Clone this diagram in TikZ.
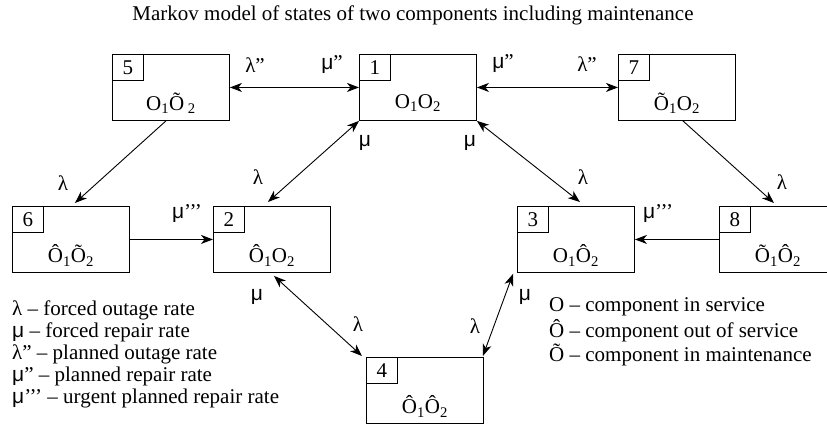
\documentclass[tikz,border=0pt]{standalone}
\usepackage{fontspec}
\setmainfont{Liberation Serif}
\newfontfamily\grk{Liberation Sans}
\usetikzlibrary{arrows.meta}
\newcommand{\mmu}{{\grk μ}}
\newcommand{\dq}{\symbol{34}}
\newcommand{\sq}{\symbol{39}}

\begin{document}
\begin{tikzpicture}[x=1pt,y=-1pt,font=\fontsize{21}{23}\selectfont,
  >={Stealth[length=12pt,width=9pt,inset=3.5pt]},
  state/.style={draw,line width=0.9pt,anchor=north west,minimum width=117pt,minimum height=66pt,inner sep=0pt},
  tag/.style={draw,line width=0.9pt,anchor=north west,minimum width=31pt,minimum height=26pt,inner sep=0pt},
  link/.style={line width=0.9pt},
  rate/.style={inner sep=0pt},
  key/.style={anchor=west,inner sep=0pt}]
\clip (0,0) rectangle (827,425);
\useasboundingbox (0,0) rectangle (827,425);
\node (title) at (413,15) {Markov model of states of two components including maintenance};
\foreach \n/\x/\y/\txt in {1/359/54/{O\textsubscript{1}O\textsubscript{2}},
  5/112/54/{O\textsubscript{1}Õ\textsubscript{\ 2}},
  7/618/54/{Õ\textsubscript{1}O\textsubscript{2}},
  6/12/206/{Ô\textsubscript{1}Õ\textsubscript{2}},
  2/213/206/{Ô\textsubscript{1}O\textsubscript{2}},
  3/517/206/{O\textsubscript{1}Ô\textsubscript{2}},
  8/719/206/{Õ\textsubscript{1}Ô\textsubscript{2}},
  4/366/357/{Ô\textsubscript{1}Ô\textsubscript{2}}}
{\node[state] (s\n) at (\x,\y) {};
 \node[tag] (t\n) at (s\n.north west) {\n};
 \node (o\n) at ([yshift=-16pt]s\n.center) {\txt};}
\draw[link,<->] (s5.east)--(s1.west);
\draw[link,<->] (s1.east)--(s7.west);
\draw[link,->] ([xshift=-5pt]s5.south)--([xshift=4pt,yshift=3pt]s6.north);
\draw[link,->] ([xshift=6pt]s7.south)--([xshift=-4pt,yshift=3pt]s8.north);
\draw[link,<->] (s1.south west)--([xshift=-4pt,yshift=4pt]s2.north);
\draw[link,<->] (s1.south east)--([xshift=4pt,yshift=4pt]s3.north);
\draw[link,->] (s6.east)--(s2.west);
\draw[link,->] (s8.west)--(s3.east);
\draw[link,<->] ([xshift=2pt,yshift=-3pt]s2.south)--([xshift=-4pt,yshift=1pt]s4.north west);
\draw[link,<->] ([xshift=-1pt,yshift=1pt]s4.north east)--([xshift=-4pt,yshift=-1pt]s3.south west);
\node[rate] (r51) at (255,65) {λ\dq};
\node[rate] (r15) at (332,65) {\mmu\dq};
\node[rate] (r17) at (503,64) {\mmu\dq};
\node[rate] (r71) at (587,64) {λ\dq};
\node[rate] (r12) at (365,143) {\mmu};
\node[rate] (r13) at (470,143) {\mmu};
\node[rate] (r21) at (258,177) {λ};
\node[rate] (r31) at (583,177) {λ};
\node[rate] (r56) at (63,183) {λ};
\node[rate] (r78) at (782,182) {λ};
\node[rate] (r62) at (187,214) {\mmu\sq\sq\sq};
\node[rate] (r83) at (658,214) {\mmu\sq\sq\sq};
\node[rate] (r42) at (257,297) {\mmu};
\node[rate] (r24) at (358,324) {λ};
\node[rate] (r43) at (475,326) {λ};
\node[rate] (r34) at (525,297) {\mmu};
\node[key] (k1) at (12,310) {λ – forced outage rate};
\node[key] (k2) at (12,332) {\mmu{} – forced repair rate};
\node[key] (k3) at (12,354) {λ\dq{} – planned outage rate};
\node[key] (k4) at (12,376) {\mmu\dq{} – planned repair rate};
\node[key] (k5) at (12,398) {\mmu\sq\sq\sq{} – urgent planned repair rate};
\node[key] (c1) at (549,307) {O – component in service};
\node[key] (c2) at (549,331) {Ô – component out of service};
\node[key] (c3) at (549,355) {Õ – component in maintenance};
\end{tikzpicture}
\end{document}
